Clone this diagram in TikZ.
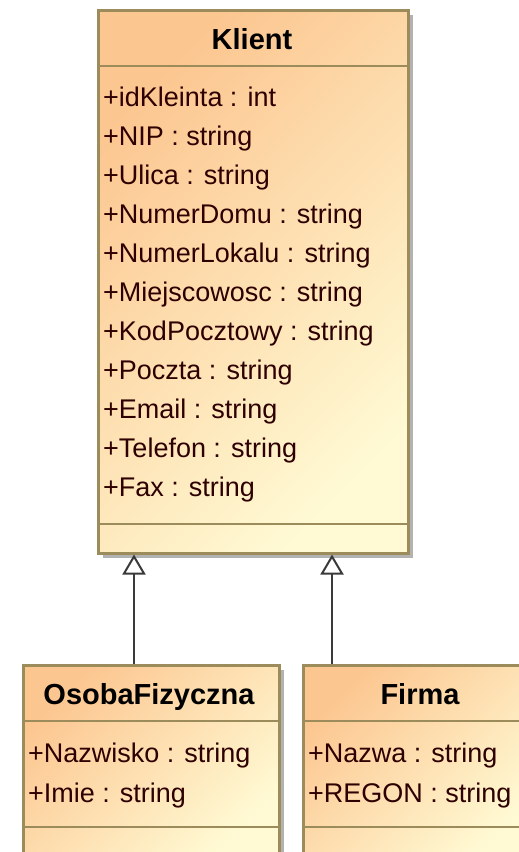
\documentclass[tikz,border=0pt]{standalone}
\usepackage{fontspec}
\setmainfont{Liberation Sans}
\usetikzlibrary{arrows.meta, calc, shadows}

\definecolor{classtop}{HTML}{FCC690}
\definecolor{classbottom}{HTML}{FFFAD4}
\definecolor{classborder}{HTML}{9C8C5C}
\definecolor{attrtext}{HTML}{2E0000}
\definecolor{linkgray}{HTML}{3A3A3A}

\tikzset{
  classbox/.style={rectangle, draw=classborder, line width=2.5pt, anchor=north west, inner sep=0pt,
    top color=classtop, bottom color=classbottom, shading angle=45,
    drop shadow={shadow xshift=5pt, shadow yshift=-5pt, fill=black!30, opacity=1}},
  classname/.style={anchor=base, inner sep=0pt, font=\bfseries\fontsize{29}{29}\selectfont},
  attr/.style={anchor=base west, inner sep=0pt, text=attrtext, font=\fontsize{27}{27}\selectfont},
  sepline/.style={draw=classborder, line width=2.5pt},
  inherit/.style={draw=linkgray, line width=2pt, -{Triangle[open, fill=white, length=20pt, width=23pt]}}
}

\begin{document}
\begin{tikzpicture}[x=1pt, y=-1pt]
    \useasboundingbox (0,0) rectangle (519,852);
    \clip (0,0) rectangle (519,852);

    % Class boxes
    \node[classbox, minimum width=310pt, minimum height=543pt] (klient) at (97,9) {};
    \node[classbox, minimum width=256pt, minimum height=192pt] (osoba) at (22,664) {};
    \node[classbox, minimum width=236pt, minimum height=192pt] (firma) at (302,664) {};

    % Compartment lines
    \draw[sepline] ($(klient.north west)+(0,57)$) -- ($(klient.north east)+(0,57)$);
    \draw[sepline] ($(klient.north west)+(0,515)$) -- ($(klient.north east)+(0,515)$);
    \draw[sepline] ($(osoba.north west)+(0,57)$) -- ($(osoba.north east)+(0,57)$);
    \draw[sepline] ($(osoba.north west)+(0,163)$) -- ($(osoba.north east)+(0,163)$);
    \draw[sepline] ($(firma.north west)+(0,57)$) -- ($(firma.north east)+(0,57)$);
    \draw[sepline] ($(firma.north west)+(0,163)$) -- ($(firma.north east)+(0,163)$);

    % Class names
    \node[classname] (klientName) at (252,49) {Klient};
    \node[classname] (osobaName) at (149,704) {OsobaFizyczna};
    \node[classname] (firmaName) at (420,704) {Firma};

    % Attributes
    \foreach \a [count=\i] in {+idKleinta : int, +NIP : string, +Ulica : string,
        +NumerDomu : string, +NumerLokalu : string, +Miejscowosc : string,
        +KodPocztowy : string, +Poczta : string, +Email : string,
        +Telefon : string, +Fax : string}
      \node[attr] (klientAttr\i) at (103, 106+39*\i-39) {\a};
    \node[attr] (osobaAttr1) at (28,762) {+Nazwisko : string};
    \node[attr] (osobaAttr2) at (28,802) {+Imie : string};
    \node[attr] (firmaAttr1) at (308,762) {+Nazwa : string};
    \node[attr] (firmaAttr2) at (308,802) {+REGON : string};

    % Generalisations
    \draw[inherit] ($(osoba.north west)+(112,0)$) coordinate (osobaLink) -- (osobaLink |- klient.south);
    \draw[inherit] ($(firma.north west)+(30,0)$) coordinate (firmaLink) -- (firmaLink |- klient.south);
\end{tikzpicture}
\end{document}
